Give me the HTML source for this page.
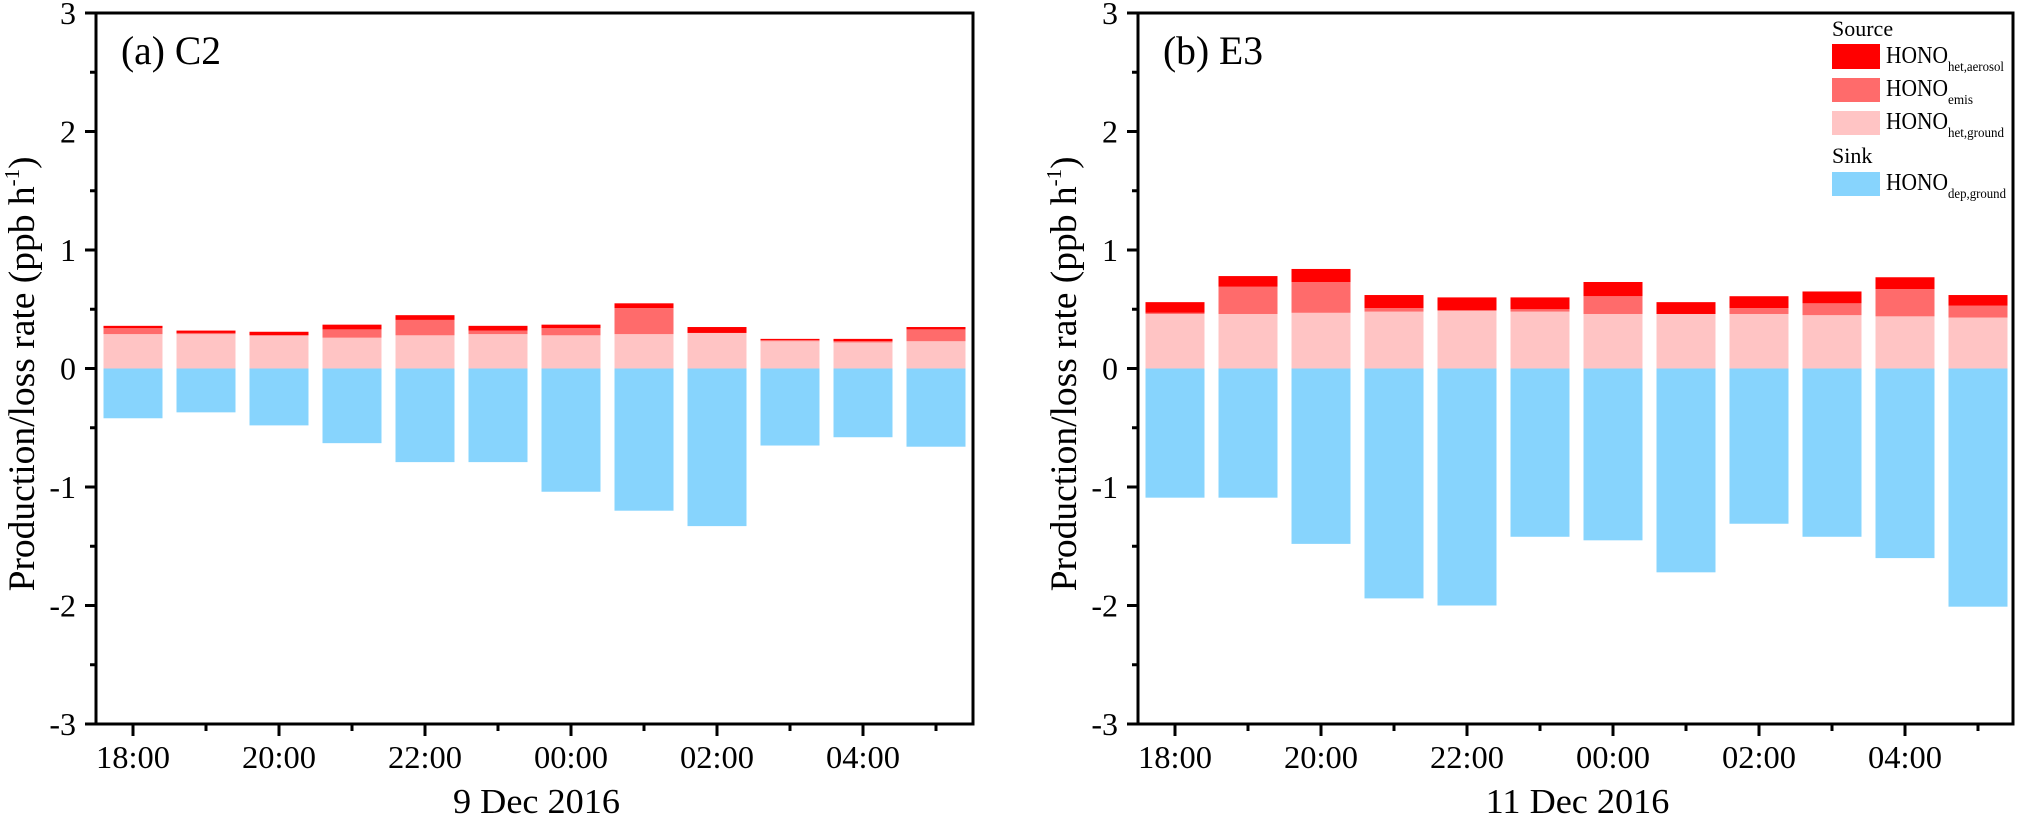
<!DOCTYPE html>
<html><head><meta charset="utf-8"><style>
body{margin:0;background:#fff;}
svg{display:block;font-family:"Liberation Serif",serif;}
</style></head><body>
<svg id="chart" width="2017" height="820" viewBox="0 0 2017 820" xmlns="http://www.w3.org/2000/svg">
<g id="legend">
  <text x="1832" y="36" font-size="22">Source</text>
  <rect x="1832" y="44" width="48" height="25" fill="#ff0000"/>
  <text x="1886" y="63" font-size="24"><tspan textLength="62" lengthAdjust="spacingAndGlyphs">HONO</tspan><tspan font-size="14" dy="8" textLength="56" lengthAdjust="spacingAndGlyphs">het,aerosol</tspan></text>
  <rect x="1832" y="78" width="48" height="24" fill="#ff6b6b"/>
  <text x="1886" y="96" font-size="24"><tspan textLength="62" lengthAdjust="spacingAndGlyphs">HONO</tspan><tspan font-size="14" dy="8" textLength="25" lengthAdjust="spacingAndGlyphs">emis</tspan></text>
  <rect x="1832" y="111" width="48" height="24" fill="#ffc4c4"/>
  <text x="1886" y="129" font-size="24"><tspan textLength="62" lengthAdjust="spacingAndGlyphs">HONO</tspan><tspan font-size="14" dy="8" textLength="56" lengthAdjust="spacingAndGlyphs">het,ground</tspan></text>
  <text x="1832" y="163" font-size="22">Sink</text>
  <rect x="1832" y="172" width="48" height="24" fill="#87d4fd"/>
  <text x="1886" y="190" font-size="24"><tspan textLength="62" lengthAdjust="spacingAndGlyphs">HONO</tspan><tspan font-size="14" dy="8" textLength="58" lengthAdjust="spacingAndGlyphs">dep,ground</tspan></text>
</g>
</svg>
<script>
const hours = ["18:00","19:00","20:00","21:00","22:00","23:00","00:00","01:00","02:00","03:00","04:00","05:00"];
const yTicks = [3,2,1,0,-1,-2,-3];
const xTickLabels = ["18:00","20:00","22:00","00:00","02:00","04:00"];
// Panel (a) C2
const aGround = [0.29,0.29,0.28,0.26,0.28,0.29,0.28,0.29,0.30,0.23,0.22,0.23];
const aEmis = [0.05,0.01,0.00,0.07,0.13,0.03,0.06,0.22,0.00,0.01,0.01,0.10];
const aAerosol = [0.02,0.02,0.03,0.04,0.04,0.04,0.03,0.04,0.05,0.01,0.02,0.02];
const aDep = [-0.42,-0.37,-0.48,-0.63,-0.79,-0.79,-1.04,-1.20,-1.33,-0.65,-0.58,-0.66];
// Panel (b) E3
const bGround = [0.46,0.46,0.47,0.48,0.49,0.48,0.46,0.46,0.46,0.45,0.44,0.43];
const bEmis = [0.01,0.23,0.26,0.03,0.00,0.02,0.15,0.00,0.05,0.10,0.23,0.10];
const bAerosol = [0.09,0.09,0.11,0.11,0.11,0.10,0.12,0.10,0.10,0.10,0.10,0.09];
const bDep = [-1.09,-1.09,-1.48,-1.94,-2.00,-1.42,-1.45,-1.72,-1.31,-1.42,-1.60,-2.01];

const NS = "http://www.w3.org/2000/svg";
const svg = document.getElementById('chart');
const legend = document.getElementById('legend');
function mk(tag, attrs, parent){
  const e = document.createElementNS(NS, tag);
  for (const k in attrs) e.setAttribute(k, attrs[k]);
  (parent||svg).insertBefore(e, parent ? null : legend);
  return e;
}
const yTop = 13, yBot = 724;
function yScale(v){ return yTop + (3 - v) * (yBot - yTop) / 6; }

function panel(id, left, right, firstX, label, xtitle, ground, emis, aerosol, dep){
  const g = mk('g', {});
  
  
  const step = 73, bw = 59;
  const xScale = i => firstX + i * step;
  for (let i = 0; i < hours.length; i++){
    const cx = xScale(i);
    const y0 = yScale(0), y1 = yScale(ground[i]), y2 = yScale(ground[i] + emis[i]), y3 = yScale(ground[i] + emis[i] + aerosol[i]);
    let r = mk('rect', {x: cx - bw/2, y: y1, width: bw, height: y0 - y1, fill: '#ffc4c4'}, g);
    
    
    r = mk('rect', {x: cx - bw/2, y: y2, width: bw, height: y1 - y2, fill: '#ff6b6b'}, g);
    
    
    r = mk('rect', {x: cx - bw/2, y: y3, width: bw, height: y2 - y3, fill: '#ff0000'}, g);
    
    
    const yd = yScale(dep[i]);
    r = mk('rect', {x: cx - bw/2, y: y0, width: bw, height: yd - y0, fill: '#87d4fd'}, g);
    
    
  }
  const f = mk('rect', {x: left, y: yTop, width: right - left, height: yBot - yTop, fill: 'none', stroke: '#000', 'stroke-width': 3}, g);
  
  
  yTicks.forEach(v => {
    const y = yScale(v);
    const t = mk('line', {x1: left - 11, x2: left, y1: y, y2: y, stroke: '#000', 'stroke-width': 3}, g);
    
    
    const tl = mk('text', {x: left - 20, y: y + 11, 'font-size': 32, 'text-anchor': 'end'}, g);
    tl.textContent = v;
    
    
    if (v > -3){
      const m = mk('line', {x1: left - 6, x2: left, y1: yScale(v - 0.5), y2: yScale(v - 0.5), stroke: '#000', 'stroke-width': 3}, g);
      
      
    }
  });
  for (let i = 0; i < hours.length; i++){
    const major = i % 2 === 0;
    const t = mk('line', {x1: xScale(i), x2: xScale(i), y1: yBot, y2: yBot + (major ? 12 : 7), stroke: '#000', 'stroke-width': 3}, g);
    
    
  }
  xTickLabels.forEach((s, k) => {
    const tl = mk('text', {x: xScale(k * 2), y: 768, 'font-size': 32, 'text-anchor': 'middle', textLength: 74, lengthAdjust: 'spacingAndGlyphs'}, g);
    tl.textContent = s;
    
    
  });
  const xt = mk('text', {x: (left + right) / 2 + 2, y: 813, 'font-size': 35, 'text-anchor': 'middle', textLength: xtitle.length * 16.7, lengthAdjust: 'spacingAndGlyphs'}, g);
  xt.textContent = xtitle;
  
  
  const yt = mk('text', {x: 0, y: 0, 'font-size': 37, 'text-anchor': 'middle', transform: 'translate(' + (left - 62) + ',374) rotate(-90)'}, g);
  yt.innerHTML = '<tspan textLength="405" lengthAdjust="spacingAndGlyphs">Production/loss rate (ppb h</tspan><tspan font-size="21" dy="-15">-1</tspan><tspan dy="15">)</tspan>';
  
  
  const pl = mk('text', {x: left + 25, y: 64, 'font-size': 40, textLength: 100, lengthAdjust: 'spacingAndGlyphs'}, g);
  pl.textContent = label;
  
  
}
panel('a', 96, 973, 133, '(a) C2', '9 Dec 2016', aGround, aEmis, aAerosol, aDep);
panel('b', 1138, 2013, 1175, '(b) E3', '11 Dec 2016', bGround, bEmis, bAerosol, bDep);
</script>
</body></html>
